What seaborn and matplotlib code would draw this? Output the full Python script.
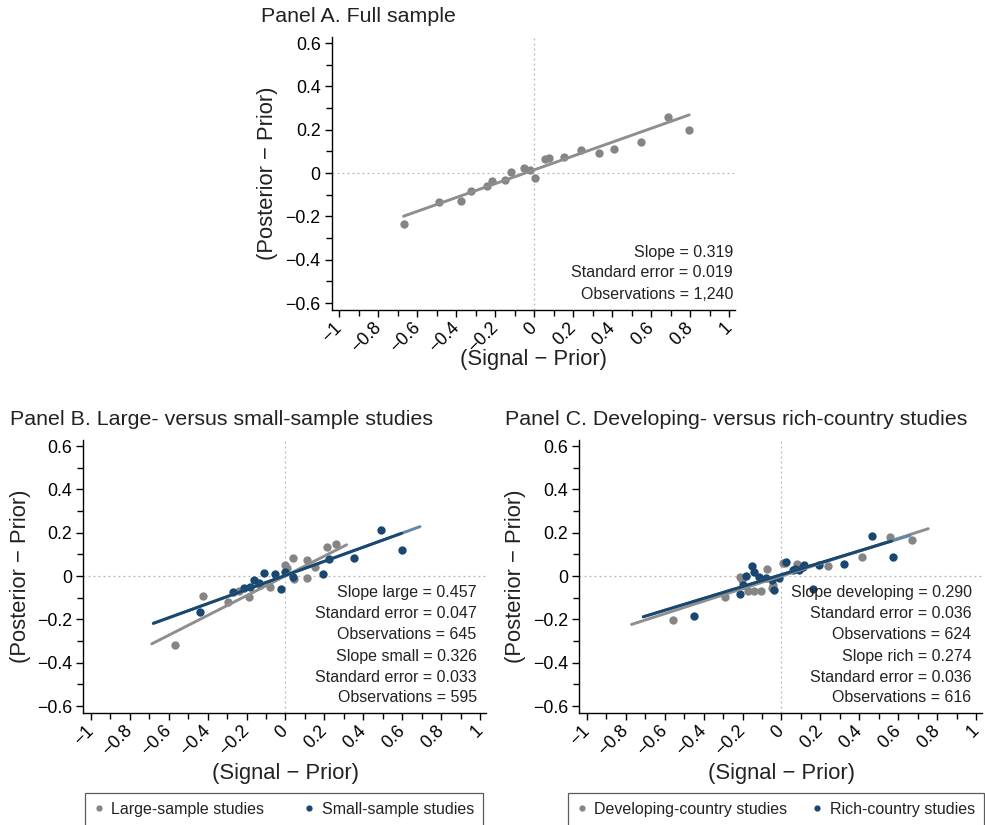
import numpy as np
import pandas as pd
import matplotlib
matplotlib.use("Agg")
import matplotlib.pyplot as plt
from matplotlib.lines import Line2D
from matplotlib.ticker import MultipleLocator
import seaborn as sns

# ---------------- data ----------------
# Panel A: full sample (binned)
a_x = [-0.671, -0.489, -0.375, -0.325, -0.244, -0.219, -0.149, -0.120, -0.054, -0.022,
       0.002, 0.056, 0.075, 0.153, 0.241, 0.334, 0.408, 0.546, 0.687, 0.795]
a_y = [-0.234, -0.132, -0.129, -0.082, -0.062, -0.036, -0.034, 0.003, 0.024, 0.012,
       -0.022, 0.065, 0.071, 0.074, 0.106, 0.092, 0.109, 0.144, 0.258, 0.197]

# Panel B: large- vs small-sample
b_large_x = [-0.568, -0.425, -0.297, -0.187, -0.080, -0.240, -0.130, -0.003, 0.006,
             0.040, 0.044, 0.112, 0.112, 0.152, 0.215, 0.258]
b_large_y = [-0.317, -0.094, -0.119, -0.097, -0.049, -0.070, -0.040, 0.051, 0.035,
             0.082, -0.013, 0.074, -0.011, 0.043, 0.135, 0.148]
b_small_x = [-0.439, -0.271, -0.212, -0.184, -0.160, -0.135, -0.109, -0.052, -0.023,
             -0.003, 0.040, 0.191, 0.222, 0.352, 0.489, 0.600]
b_small_y = [-0.165, -0.075, -0.057, -0.052, -0.018, -0.031, 0.012, 0.009, -0.061,
             0.020, -0.003, 0.009, 0.077, 0.083, 0.214, 0.119]

# Panel C: developing- vs rich-country
c_dev_x = [-0.559, -0.290, -0.213, -0.204, -0.170, -0.141, -0.107, -0.073, -0.050,
           -0.042, 0.009, 0.018, 0.078, 0.240, 0.415, 0.557, 0.669]
c_dev_y = [-0.203, -0.095, -0.003, -0.018, -0.069, -0.069, -0.069, 0.034, -0.057,
           -0.042, 0.059, 0.061, 0.055, 0.046, 0.086, 0.181, 0.166]
c_rich_x = [-0.448, -0.213, -0.196, -0.184, -0.153, -0.141, -0.114, -0.081, -0.050,
            -0.037, -0.013, 0.023, 0.061, 0.070, 0.090, 0.112, 0.116, 0.163, 0.194,
            0.323, 0.463, 0.571]
c_rich_y = [-0.183, -0.082, -0.042, 0.000, 0.046, 0.017, -0.006, -0.011, -0.018,
            -0.065, -0.011, 0.066, 0.028, 0.031, 0.028, 0.043, 0.051, -0.061, 0.051,
            0.055, 0.186, 0.089]

# fitted lines: slope, intercept, x-range
fit_a = dict(slope=0.319, intercept=0.015, x=[-0.671, 0.795])
fit_b_large = dict(slope=0.457, intercept=0.001, x=[-0.687, 0.314])
fit_b_small = dict(slope=0.326, intercept=0.003, x=[-0.679, 0.597], x_ext=[-0.679, 0.691])
fit_c_dev = dict(slope=0.290, intercept=0.000, x=[-0.770, 0.754])
fit_c_rich = dict(slope=0.274, intercept=0.0065, x=[-0.710, 0.566], x_ext=[-0.710, 0.660])

# texts
titles = ["Panel A. Full sample",
          "Panel B. Large- versus small-sample studies",
          "Panel C. Developing- versus rich-country studies"]
stats_a = ["Slope = 0.319", "Standard error = 0.019", "Observations = 1,240"]
stats_b = ["Slope large = 0.457", "Standard error = 0.047", "Observations = 645",
           "Slope small = 0.326", "Standard error = 0.033", "Observations = 595"]
stats_c = ["Slope developing = 0.290", "Standard error = 0.036", "Observations = 624",
           "Slope rich = 0.274", "Standard error = 0.036", "Observations = 616"]
legend_b = ["Large-sample studies", "Small-sample studies"]
legend_c = ["Developing-country studies", "Rich-country studies"]
x_ticks = [-1, -0.8, -0.6, -0.4, -0.2, 0, 0.2, 0.4, 0.6, 0.8, 1]
x_tick_labels = ["\u22121", "\u22120.8", "\u22120.6", "\u22120.4", "\u22120.2", "0",
                 "0.2", "0.4", "0.6", "0.8", "1"]
y_ticks = [-0.6, -0.4, -0.2, 0, 0.2, 0.4, 0.6]
y_tick_labels = ["\u22120.6", "\u22120.4", "\u22120.2", "0", "0.2", "0.4", "0.6"]
x_label = "(Signal \u2212 Prior)"
y_label = "(Posterior \u2212 Prior)"

# ---------------- style ----------------
sns.set_style("ticks")
plt.rcParams["font.family"] = ["Liberation Sans", "DejaVu Sans"]
plt.rcParams["axes.unicode_minus"] = True

GRAY = "#858585"
GRAY_LINE = "#8e8e8e"
NAVY = "#1a476f"
LIGHT_NAVY = "#5f88ad"

W, H = 985, 825
fig = plt.figure(figsize=(W / 100, H / 100), dpi=100)


def add_ax(left, top, right, bottom):
    return fig.add_axes([left / W, 1 - bottom / H, (right - left) / W, (bottom - top) / H])


def style_ax(ax):
    ax.set_xlim(-1.04, 1.03)
    ax.set_ylim(-0.632, 0.628)
    ax.axhline(0, color="#b5b5b5", lw=0.9, ls=(0, (1.5, 2.5)), zorder=0)
    ax.axvline(0, color="#b5b5b5", lw=0.9, ls=(0, (1.5, 2.5)), zorder=0)
    sns.despine(ax=ax)
    for s in ["left", "bottom"]:
        ax.spines[s].set_linewidth(1.0)
        ax.spines[s].set_color("black")
    ax.set_xticks(x_ticks)
    ax.set_xticklabels(x_tick_labels)
    ax.set_yticks(y_ticks)
    ax.set_yticklabels(y_tick_labels)
    ax.xaxis.set_minor_locator(MultipleLocator(0.1))
    ax.yaxis.set_minor_locator(MultipleLocator(0.1))
    ax.tick_params(which="major", direction="out", length=5, width=1.0, colors="black",
                   labelsize=12.8)
    ax.tick_params(which="minor", direction="out", length=4, width=1.0, colors="black")
    ax.tick_params(axis="x", which="major", pad=6)
    ax.tick_params(axis="y", which="major", pad=3)
    for lab in ax.get_xticklabels():
        lab.set_rotation(45)
        lab.set_rotation_mode("anchor")
        lab.set_ha("right")
        lab.set_va("center")


def clear_labels(ax):
    ax.set_xlabel("")
    ax.set_ylabel("")


def scatter(ax, xs, ys, color):
    df = pd.DataFrame({"x": xs, "y": ys})
    sns.scatterplot(data=df, x="x", y="y", ax=ax, color=color, s=36, linewidth=0,
                    zorder=3, legend=False)


def fit_line(ax, fit, color, key="x", zorder=4, lw=2.1):
    xs = np.array(fit[key])
    df = pd.DataFrame({"x": xs, "y": fit["intercept"] + fit["slope"] * xs})
    sns.lineplot(data=df, x="x", y="y", ax=ax, color=color, lw=lw, zorder=zorder,
                 legend=False)


def stats_text(ax, lines, xr, ys):
    for t, yy in zip(lines, ys):
        ax.text(xr, yy, t, transform=ax.transAxes, ha="right", va="center",
                fontsize=11.5, color="#222222", zorder=6)


def fig_text(x, y, s, **kw):
    fig.text(x / W, 1 - y / H, s, **kw)


# ---------------- Panel A ----------------
axA = add_ax(331.7, 37, 735, 310)
style_ax(axA)
scatter(axA, a_x, a_y, GRAY)
fit_line(axA, fit_a, GRAY_LINE)
stats_text(axA, stats_a, 0.995, [0.212, 0.136, 0.055])
clear_labels(axA)

# ---------------- Panel B ----------------
axB = add_ax(83, 440, 486, 713)
style_ax(axB)
scatter(axB, b_large_x, b_large_y, GRAY)
scatter(axB, b_small_x, b_small_y, NAVY)
fit_line(axB, fit_b_small, LIGHT_NAVY, key="x_ext", zorder=4)
fit_line(axB, fit_b_large, GRAY_LINE, zorder=4.5)
fit_line(axB, fit_b_small, NAVY, zorder=5)
stats_text(axB, stats_b, 0.977, [0.441, 0.363, 0.286, 0.206, 0.131, 0.055])
clear_labels(axB)

# ---------------- Panel C ----------------
axC = add_ax(579, 440, 982, 713)
style_ax(axC)
scatter(axC, c_dev_x, c_dev_y, GRAY)
scatter(axC, c_rich_x, c_rich_y, NAVY)
fit_line(axC, fit_c_dev, GRAY_LINE, zorder=4)
fit_line(axC, fit_c_rich, LIGHT_NAVY, key="x_ext", zorder=4.5)
fit_line(axC, fit_c_rich, NAVY, zorder=5)
stats_text(axC, stats_c, 0.974, [0.441, 0.363, 0.286, 0.206, 0.131, 0.055])
clear_labels(axC)

# ---------------- titles & axis labels ----------------
fig_text(261, 17, titles[0], fontsize=15.4, ha="left", va="center", color="#222222")
fig_text(10, 420, titles[1], fontsize=15.4, ha="left", va="center", color="#222222")
fig_text(505, 420, titles[2], fontsize=15.4, ha="left", va="center", color="#222222")

for (xc, yc) in [(268, 173.5), (21, 576.5), (516, 576.5)]:
    fig_text(xc, yc, y_label, fontsize=15.8, rotation=90, ha="center", va="center",
             color="#222222")
for (xc, yc) in [(534, 359), (286, 774), (781, 774)]:
    fig_text(xc, yc, x_label, fontsize=15.8, ha="center", va="center", color="#222222")

# ---------------- legends ----------------
def make_legend(labels, x0, x1, top):
    handles = [Line2D([], [], ls="", marker="o", ms=4.5, color=GRAY, mec="none"),
               Line2D([], [], ls="", marker="o", ms=4.5, color=NAVY, mec="none")]
    leg = fig.legend(handles, labels, loc="upper left",
                     bbox_to_anchor=(x0 / W, 1 - top / H - 0.2, (x1 - x0) / W, 0.2),
                     mode="expand", ncol=2, fontsize=11.5, frameon=True,
                     fancybox=False, borderaxespad=0, handlelength=0.6,
                     handletextpad=0.5, borderpad=0.55, columnspacing=1.0)
    fr = leg.get_frame()
    fr.set_edgecolor("#333333")
    fr.set_linewidth(0.9)
    fr.set_facecolor("white")
    for t in leg.get_texts():
        t.set_color("#222222")
    return leg

make_legend(legend_b, 85, 483, 793)
make_legend(legend_c, 568, 984, 793)

fig.savefig("out.png", dpi=100, facecolor="white")
